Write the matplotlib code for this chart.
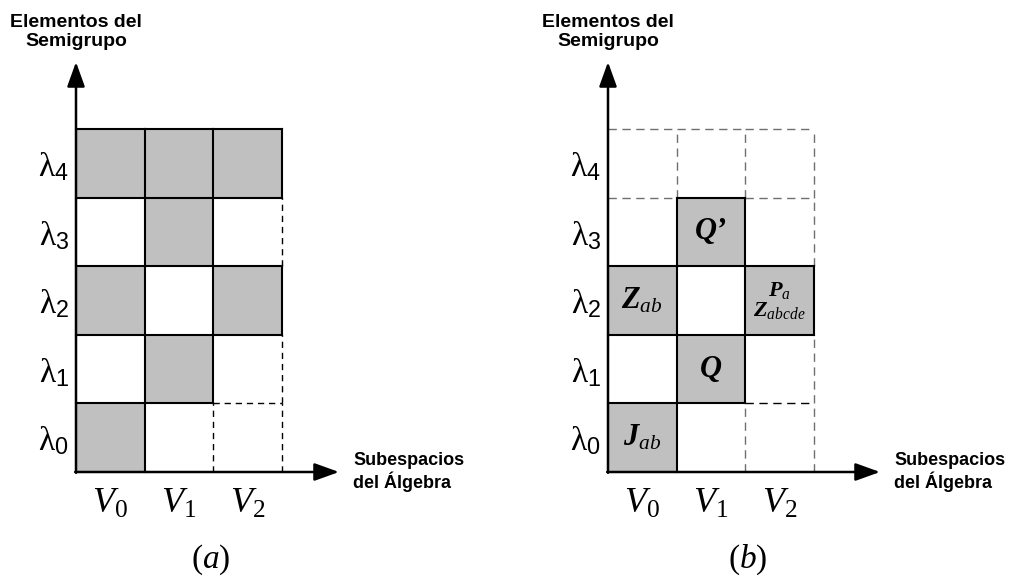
"""
Diagrama de subespacios del algebra vs elementos del semigrupo:
(a) celdas ocupadas, (b) campos asignados a cada celda.
"""
import matplotlib
matplotlib.use('Agg')
import matplotlib.pyplot as plt
from matplotlib.patches import Rectangle

plt.rcParams['mathtext.fontset'] = 'custom'
plt.rcParams['mathtext.rm'] = 'Liberation Serif'
plt.rcParams['mathtext.it'] = 'Liberation Serif:italic'
plt.rcParams['mathtext.bf'] = 'Liberation Serif:bold'
plt.rcParams['mathtext.bfit'] = 'Liberation Serif:italic:bold'
plt.rcParams['mathtext.sf'] = 'Liberation Sans'
plt.rcParams['lines.scale_dashes'] = False

# --- datos ---
subespacios = [r'$V_{\mathrm{0}}$', r'$V_{\mathrm{1}}$', r'$V_{\mathrm{2}}$']
elementos = [r'$\mathrm{\lambda}_{\mathsf{0}}$', r'$\mathrm{\lambda}_{\mathsf{1}}$',
             r'$\mathrm{\lambda}_{\mathsf{2}}$', r'$\mathrm{\lambda}_{\mathsf{3}}$',
             r'$\mathrm{\lambda}_{\mathsf{4}}$']
# celdas sombreadas (columna, fila)
celdas_a = [(0, 4), (1, 4), (2, 4), (1, 3), (0, 2), (2, 2), (1, 1), (0, 0)]
celdas_b = [(1, 3), (0, 2), (2, 2), (1, 1), (0, 0)]
# campos en cada celda de (b)
etiquetas_b = [
    (1, 3, 'Q\u2019', 22),
    (0, 2, r'$\mathbfit{Z}_{ab}$', 22),
    (2, 2, r'$\mathbfit{P}_{a}$' + '\n' + r'$\mathbfit{Z}_{abcde}$', 16),
    (1, 1, r'$\mathbfit{Q}$', 22),
    (0, 0, r'$\mathbfit{J}_{ab}$', 22),
]
# aristas discontinuas oscuras en (b): (tipo, columna/posicion, fila/posicion)
oscuras_b = [('h', 2, 1)]

W, H = 1017, 580
U = 68.6      # lado de celda en px
Y0 = 472      # altura del eje x en px (desde arriba)
GRIS = '#c0c0c0'

fig = plt.figure(figsize=(W / 100, H / 100), dpi=100)


def panel(left, width, x0, tip_x, celdas, etiquetas, color_disc, guiones, oscuras, letra):
    ax = fig.add_axes([left / W, 0, width / W, 1])
    ax.set_xlim((left - x0) / U, (left + width - x0) / U)
    ax.set_ylim((Y0 - H) / U, Y0 / U)
    ax.axis('off')
    ncol, nfil = len(subespacios), len(elementos)
    llenas = set(celdas)

    for c, r in celdas:
        ax.add_patch(Rectangle((c, r), 1, 1, facecolor=GRIS, edgecolor='none', zorder=1))

    def traza(xs, ys, solida, oscura):
        if solida:
            ax.plot(xs, ys, color='black', lw=1.5, solid_capstyle='projecting', zorder=3)
        else:
            ax.plot(xs, ys, color='black' if oscura else color_disc, lw=1.0,
                    linestyle=(0, guiones), zorder=2)

    # aristas horizontales
    for j in range(1, nfil + 1):
        for i in range(ncol):
            sol = (i, j - 1) in llenas or (i, j) in llenas
            traza([i, i + 1], [j, j], sol, ('h', i, j) in oscuras)
    # aristas verticales
    for k in range(1, ncol + 1):
        for j in range(nfil):
            sol = (k - 1, j) in llenas or (k, j) in llenas
            traza([k, k], [j, j + 1], sol, ('v', k, j) in oscuras)

    # ejes con flecha
    ytip = (Y0 - 62) / U
    xtip = (tip_x - x0) / U
    flecha = dict(arrowstyle='-|>,head_length=0.75,head_width=0.27', mutation_scale=20,
                  lw=1.8, color='black', shrinkA=0, shrinkB=0)
    ax.annotate('', xy=(0, ytip), xytext=(0, -0.012), arrowprops=flecha, zorder=4)
    ax.annotate('', xy=(xtip, 0), xytext=(-0.012, 0), arrowprops=flecha, zorder=4)

    ax.text(0, (Y0 - 32) / U, 'Elementos del\nSemigrupo', ha='center', va='center',
            fontsize=14, fontweight='bold', family='Liberation Sans', linespacing=1.15)
    ax.text(xtip + 14 / U, 0, 'Subespacios\ndel \u00c1lgebra', ha='left', va='center',
            fontsize=13, fontweight='bold', family='Liberation Sans', linespacing=1.1)

    for j, lab in enumerate(elementos):
        ax.text(-7 / U, j + 0.45, lab, ha='right', va='center', fontsize=24)
    for i, lab in enumerate(subespacios):
        ax.text(i + 0.5, -0.45, lab, ha='center', va='center', fontsize=26)

    for c, r, txt, fs in etiquetas:
        ax.text(c + 0.5, r + 0.5, txt, ha='center', va='center', fontsize=fs,
                family='Liberation Serif', fontweight='bold', style='italic',
                linespacing=0.95, zorder=5)

    ax.text((tip_x - x0) / U / 2 + 0.05, (Y0 - 560) / U, letra, ha='center', va='center',
            fontsize=24)


panel(0, 508, 76, 339, celdas_a, [], 'black', (4.5, 3.5), [], r'$(a)$')
panel(508, 509, 608, 880, celdas_b, etiquetas_b, '#707070', (6, 4), oscuras_b, r'$(b)$')

fig.savefig('out.png', dpi=100)
